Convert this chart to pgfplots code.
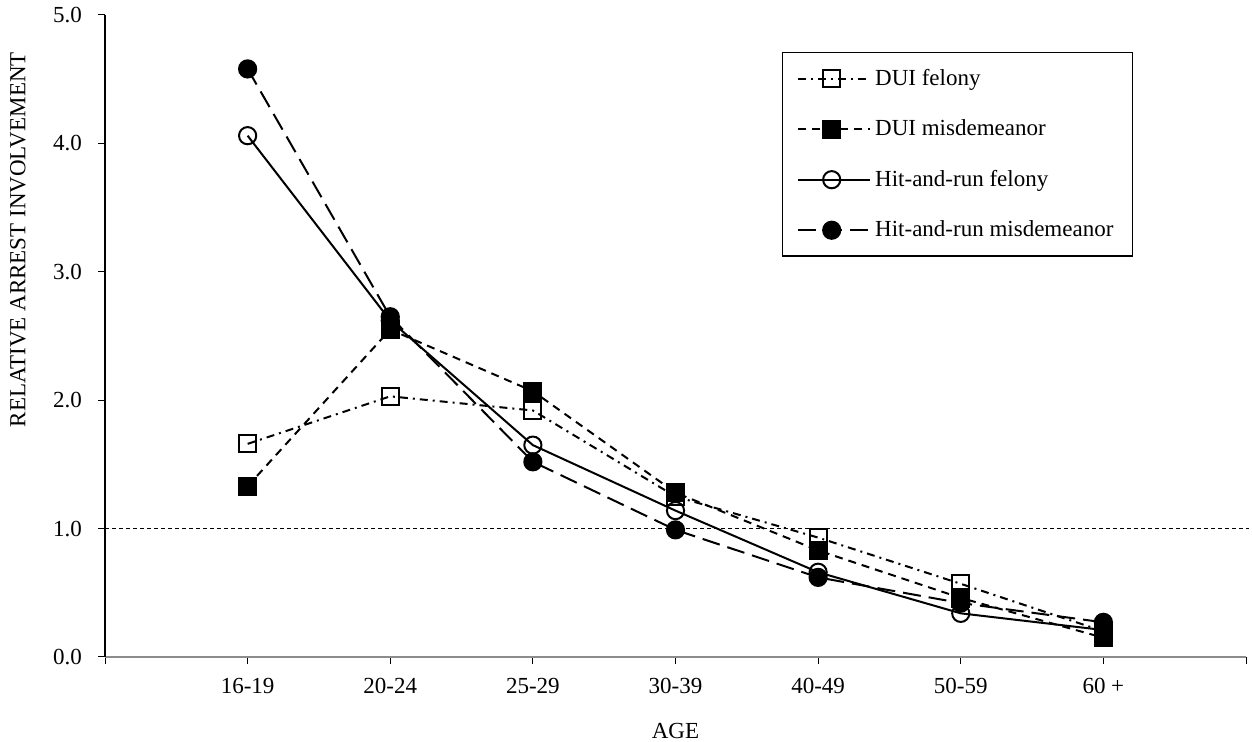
\documentclass[border=0pt]{standalone}
\usepackage{pgfplots}
\pgfplotsset{compat=1.18}
\usepackage{fontspec}
\setmainfont{Liberation Serif}
\begin{document}
\fontsize{11.5pt}{14pt}\selectfont
\begin{tikzpicture}
\useasboundingbox (-52.5pt,-42.5pt) rectangle (573.5pt,328.5pt);
\begin{axis}[
  at={(0pt,0pt)}, anchor=south west,
  scale only axis, width=570.5pt, height=321pt,
  xmin=-1, xmax=7, ymin=0, ymax=5,
  axis lines*=left,
  x axis line style={draw=gray!90, line width=1pt},
  y axis line style={draw=black, line width=0.6pt},
  xtick={-1,0,1,2,3,4,5,6,7},
  xticklabels={,16-19,20-24,25-29,30-39,40-49,50-59,60 +,},
  ytick={0,1,2,3,4,5},
  tick align=outside,
  major tick length=3.5pt,
  tick style={black, line width=0.5pt},
  minor tick num=0,
  yticklabel={\pgfmathprintnumber[fixed,fixed zerofill,precision=1]{\tick}},
  /pgf/number format/assume math mode=true,
  xticklabel style={anchor=center, yshift=-11pt},
  yticklabel style={anchor=east, xshift=-4pt},
  xlabel={AGE},
  xlabel style={at={(axis description cs:0.5,0)}, anchor=center, yshift=-37pt},
  ylabel={RELATIVE ARREST INVOLVEMENT},
  ylabel style={at={(axis description cs:0,0.65)}, anchor=center, yshift=43.5pt},
  clip=false,
  legend style={at={(rel axis cs:0.593,0.942)}, anchor=north west, draw=black, line width=0.6pt,
    inner xsep=7.5pt, inner ysep=6pt, row sep=11.5pt, cells={anchor=west}, font=\fontsize{11.5pt}{14pt}\selectfont},
  legend cell align=left,
  legend image code/.code={\draw[mark repeat=2,mark phase=2] plot coordinates {(0pt,0pt) (16.75pt,0pt) (33.5pt,0pt)}; \path (0pt,0pt) -- (36pt,0pt);},
  every axis plot/.append style={line width=1pt, mark size=4.3pt},
]
\addplot[black, dash pattern=on 4pt off 2.5pt on 1pt off 2.5pt, mark=square, mark options={solid, fill=white}]
  coordinates {(0,1.66) (1,2.03) (2,1.92) (3,1.25) (4,0.93) (5,0.57) (6,0.20)};
\addlegendentry{DUI felony}
\addplot[black, dash pattern=on 4pt off 3pt, mark=square*, mark options={solid, fill=black}]
  coordinates {(0,1.33) (1,2.55) (2,2.07) (3,1.28) (4,0.83) (5,0.46) (6,0.15)};
\addlegendentry{DUI misdemeanor}
\addplot[black, solid, mark=o, mark options={solid, fill=white}]
  coordinates {(0,4.06) (1,2.62) (2,1.65) (3,1.14) (4,0.66) (5,0.34) (6,0.21)};
\addlegendentry{Hit-and-run felony}
\addplot[black, dash pattern=on 9pt off 4pt, mark=*, mark options={solid, fill=black}]
  coordinates {(0,4.58) (1,2.65) (2,1.52) (3,0.99) (4,0.62) (5,0.42) (6,0.27)};
\addlegendentry{Hit-and-run misdemeanor}
\addplot[black, line width=0.5pt, dash pattern=on 2pt off 1.5pt, mark=none, forget plot]
  coordinates {(-1,1) (7.02,1)};
\end{axis}
\end{tikzpicture}
\end{document}
